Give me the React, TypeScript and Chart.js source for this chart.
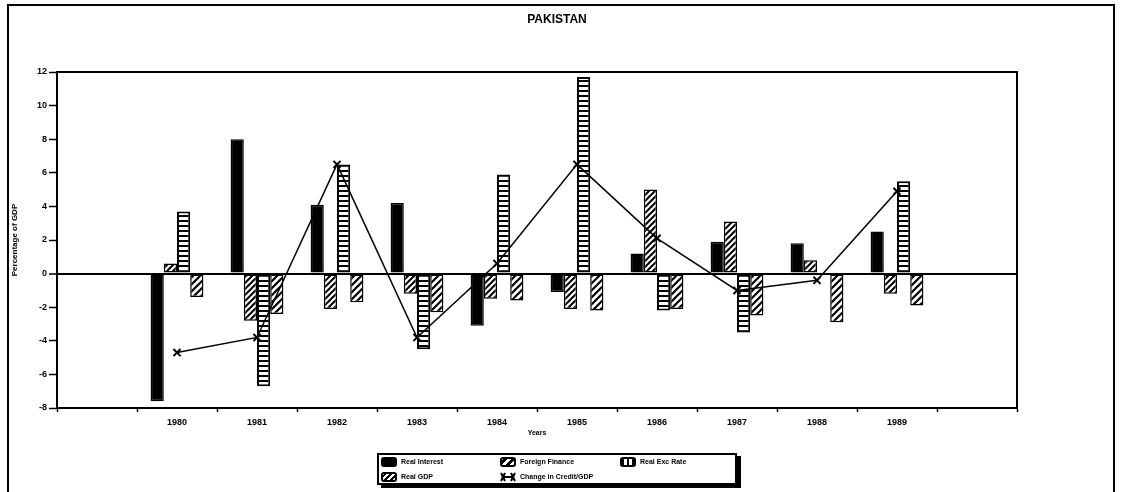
import React, { useEffect, useRef } from 'react';
import { Chart, registerables } from 'chart.js';

Chart.register(...registerables);

const categories = ['', '1980', '1981', '1982', '1983', '1984', '1985', '1986', '1987', '1988', '1989', ''];
const realInterest = [null, -7.6, 8.0, 4.1, 4.2, -3.1, -1.1, 1.2, 1.9, 1.8, 2.5, null];
const foreignFinance = [null, 0.6, -2.8, -2.1, -1.2, -1.5, -2.1, 5.0, 3.1, 0.8, -1.2, null];
const realExcRate = [null, 3.7, -6.7, 6.5, -4.5, 5.9, 11.7, -2.2, -3.5, null, 5.5, null];
const realGDP = [null, -1.4, -2.4, -1.7, -2.3, -1.6, -2.2, -2.1, -2.5, -2.9, -1.9, null];
const creditChange = [null, -4.7, -3.8, 6.5, -3.8, 0.6, 6.5, 2.1, -1.0, -0.4, 4.9, null];
const yTickMin = -8;
const yTickMax = 12;
const yTickStep = 2;

const FONT = '"Liberation Sans", Arial, sans-serif';
const NARROW = '"Liberation Sans Narrow", "Liberation Sans", Arial, sans-serif';

function hatchPattern(size: number, lw: number) {
  const c = document.createElement('canvas');
  c.width = size;
  c.height = size;
  const g = c.getContext('2d')!;
  g.fillStyle = '#fff';
  g.fillRect(0, 0, size, size);
  g.strokeStyle = '#000';
  g.lineWidth = lw;
  g.beginPath();
  g.moveTo(0, size); g.lineTo(size, 0);
  g.moveTo(-size / 2, size / 2); g.lineTo(size / 2, -size / 2);
  g.moveTo(size / 2, size * 1.5); g.lineTo(size * 1.5, size / 2);
  g.stroke();
  return g.createPattern(c, 'repeat');
}

function ladderPattern() {
  const c = document.createElement('canvas');
  c.width = 4;
  c.height = 5;
  const g = c.getContext('2d')!;
  g.fillStyle = '#000';
  g.fillRect(0, 0, 4, 5);
  g.fillStyle = '#fff';
  g.fillRect(0, 2, 4, 3);
  return g.createPattern(c, 'repeat');
}

const framePlugin = {
  id: 'plotFrame',
  afterDraw(chart: any) {
    const { ctx, chartArea: a } = chart;
    ctx.save();
    ctx.strokeStyle = '#000';
    ctx.lineWidth = 2;
    ctx.strokeRect(a.left, a.top, a.right - a.left, a.bottom - a.top);
    ctx.restore();
  },
};

function Swatch({ kind }: { kind: string }) {
  const common = { width: 16, height: 10, display: 'inline-block', border: '2px solid #000', borderRadius: 3, boxSizing: 'border-box' as const, verticalAlign: 'middle' };
  let bg: any = {};
  if (kind === 'black') bg = { background: '#000' };
  if (kind === 'ff') bg = { background: 'repeating-linear-gradient(-45deg, #fff 0 3px, #000 3px 6px)' };
  if (kind === 'gdp') bg = { background: 'repeating-linear-gradient(-45deg, #fff 0 2px, #000 2px 4px)' };
  if (kind === 'ladder') bg = { background: 'repeating-linear-gradient(90deg, #000 0 2px, #fff 2px 5px)' };
  if (kind === 'line') {
    return (
      <svg width={16} height={10} style={{ display: 'inline-block', verticalAlign: 'middle' }}>
        <line x1={2} y1={5} x2={14} y2={5} stroke="#000" strokeWidth={2} />
        <path d="M1 1 L5 9 M5 1 L1 9 M11 1 L15 9 M15 1 L11 9" stroke="#000" strokeWidth={2} />
      </svg>
    );
  }
  return <span style={{ ...common, ...bg }} />;
}

function LegendItem({ kind, label, left, top }: { kind: string; label: string; left: number; top: number }) {
  return (
    <div style={{ position: 'absolute', left, top, whiteSpace: 'nowrap', font: `bold 7px ${NARROW}`, color: '#000', lineHeight: '10px' }}>
      <Swatch kind={kind} />
      <span style={{ marginLeft: 4, verticalAlign: 'middle' }}>{label}</span>
    </div>
  );
}

export default function App() {
  const ref = useRef<HTMLCanvasElement>(null);

  useEffect(() => {
    if (!ref.current) return;
    const chart = new Chart(ref.current, {
      type: 'bar',
      data: {
        labels: categories,
        datasets: [
          {
            type: 'line',
            label: 'Change in Credit/GDP',
            data: creditChange,
            borderColor: '#000',
            borderWidth: 1.5,
            pointStyle: 'crossRot',
            pointRadius: 5,
            pointBorderWidth: 2,
            pointBorderColor: '#000',
            backgroundColor: '#000',
            fill: false,
            tension: 0,
            order: 0,
          } as any,
          {
            label: 'Real Interest',
            data: realInterest,
            backgroundColor: '#000',
            borderColor: '#000',
            borderWidth: 1.5,
            borderSkipped: false,
            order: 1,
          },
          {
            label: 'Foreign Finance',
            data: foreignFinance,
            backgroundColor: hatchPattern(6, 2) as any,
            borderColor: '#000',
            borderWidth: 1.5,
            borderSkipped: false,
            order: 1,
          },
          {
            label: 'Real Exc Rate',
            data: realExcRate,
            backgroundColor: ladderPattern() as any,
            borderColor: '#000',
            borderWidth: 2,
            borderSkipped: false,
            order: 1,
          },
          {
            label: 'Real GDP',
            data: realGDP,
            backgroundColor: hatchPattern(7, 2.2) as any,
            borderColor: '#000',
            borderWidth: 1.5,
            borderSkipped: false,
            order: 1,
          },
        ],
      },
      options: {
        animation: false,
        responsive: false,
        datasets: { bar: { barPercentage: 1, categoryPercentage: 0.66 } },
        layout: { padding: { left: 8, top: 72, right: 104, bottom: 52 } },
        plugins: {
          legend: { display: false },
          title: { display: false },
          tooltip: { enabled: false },
        },
        scales: {
          x: {
            offset: true,
            grid: {
              offset: true,
              color: 'transparent',
              drawOnChartArea: false,
              tickColor: '#000',
              tickLength: 4,
              tickWidth: 1.5,
            },
            border: { display: true, color: '#000', width: 2 },
            ticks: {
              color: '#000',
              font: { family: FONT, size: 9, weight: 'bold' },
              padding: 5,
              autoSkip: false,
              maxRotation: 0,
            },
            title: {
              display: true,
              text: 'Years',
              color: '#000',
              font: { family: NARROW, size: 7, weight: 'bold' },
              padding: { top: 0, bottom: 3 },
            },
            afterFit: (s: any) => { s.height = 32; },
          },
          y: {
            min: yTickMin,
            max: yTickMax,
            ticks: {
              stepSize: yTickStep,
              color: '#000',
              font: { family: FONT, size: 9, weight: 'bold' },
              padding: 2,
            },
            grid: {
              color: (c: any) => (c.tick && c.tick.value === 0 ? '#000' : 'transparent'),
              lineWidth: (c: any) => (c.tick && c.tick.value === 0 ? 2 : 1),
              tickColor: '#000',
              tickLength: 8,
              tickWidth: 1.5,
            },
            border: { display: true, color: '#000', width: 2 },
            title: {
              display: true,
              text: 'Percentage of GDP',
              color: '#000',
              font: { family: NARROW, size: 8, weight: 'bold' },
              padding: { top: 2, bottom: 0 },
            },
            afterFit: (s: any) => { s.width = 49; },
          },
        },
      },
      plugins: [framePlugin],
    } as any);
    return () => chart.destroy();
  }, []);

  return (
    <div style={{ position: 'absolute', left: 0, top: 0, width: 1121, height: 492, overflow: 'hidden', background: '#fff' }}>
      <div style={{ position: 'absolute', left: 7, top: 4, width: 1108, height: 520, border: '2px solid #000', boxSizing: 'border-box' }} />
      <canvas ref={ref} width={1121} height={492} style={{ position: 'absolute', left: 0, top: 0 }} />
      <div style={{ position: 'absolute', left: 457, top: 12, width: 200, textAlign: 'center', font: `bold 12px ${FONT}`, lineHeight: '14px', color: '#000' }}>PAKISTAN</div>
      <div style={{ position: 'absolute', left: 377, top: 453, width: 360, height: 32, border: '2px solid #000', boxSizing: 'border-box', boxShadow: '4px 3px 0 #000', background: '#fff' }}>
        <LegendItem kind="black" label="Real Interest" left={2} top={2} />
        <LegendItem kind="ff" label="Foreign Finance" left={121} top={2} />
        <LegendItem kind="ladder" label="Real Exc Rate" left={241} top={2} />
        <LegendItem kind="gdp" label="Real GDP" left={2} top={17} />
        <LegendItem kind="line" label="Change in Credit/GDP" left={121} top={17} />
      </div>
    </div>
  );
}
